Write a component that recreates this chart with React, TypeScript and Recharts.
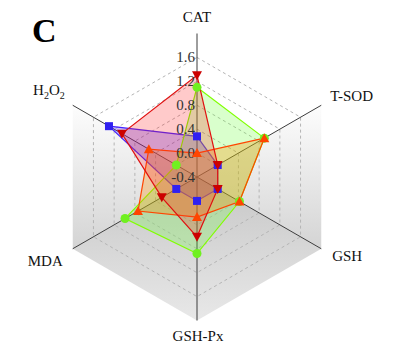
import React from "react";
import { RadarChart, Radar, PolarGrid, PolarAngleAxis, PolarRadiusAxis } from "recharts";

// axes clockwise from the top
const categories = ["CAT", "T-SOD", "GSH", "GSH-Px", "MDA", "H2O2"];
const redValues = [1.3, 0.0, 0.0, 0.6, 0.28, 1.05];
const greenValues = [1.1, 0.9, 0.42, 0.88, 0.99, 0.0];
const orangeValues = [0.0, 0.9, 0.42, 0.27, 0.74, 0.53];
const blueValues = [0.28, 0.0, 0.0, 0.0, 0.0, 1.3];
const radiusTicks = [-0.4, 0, 0.4, 0.8, 1.2, 1.6];

const data = categories.map((name, i) => ({
  name,
  red: redValues[i],
  green: greenValues[i],
  orange: orangeValues[i],
  blue: blueValues[i],
}));

const W = 420;
const H = 346;
const CX = 197;
const CY = 177;
const R = 143.5;
const SERIF = '"Liberation Serif", "Times New Roman", serif';

function pt(deg: number): [number, number] {
  const a = (deg * Math.PI) / 180;
  return [CX + R * Math.cos(a), CY - R * Math.sin(a)];
}
const poly = (pts: [number, number][]) => pts.map((p) => p.join(",")).join(" ");

// nudges for the category labels, relative to where recharts puts them
const LABEL_NUDGE: Record<string, [number, number]> = {
  CAT: [0, -4],
  "T-SOD": [2, 0],
  GSH: [4, 8],
  "GSH-Px": [1, 12],
  MDA: [-3, 13],
  H2O2: [-1, -6],
};

function AngleTick(props: any) {
  const { x, y, textAnchor, payload } = props;
  const [dx, dy] = LABEL_NUDGE[payload.value] ?? [0, 0];
  const label =
    payload.value === "H2O2" ? (
      <>
        H<tspan fontSize={10} dy={4}>2</tspan>
        <tspan dy={-4}>O</tspan>
        <tspan fontSize={10} dy={4}>2</tspan>
      </>
    ) : (
      payload.value
    );
  return (
    <text x={x + dx} y={y + dy} textAnchor={textAnchor} fontSize={15} fontFamily={SERIF} fill="#111">
      {label}
    </text>
  );
}

function RadiusTick(props: any) {
  const { x, y, payload } = props;
  return (
    <text x={x - 2} y={y + 5} textAnchor="end" fontSize={15} fontFamily={SERIF} fill="#333">
      {Number(payload.value).toFixed(1)}
    </text>
  );
}

const marker = (shape: string, color: string) => (p: any) => {
  const { cx, cy, index } = p;
  const k = `${shape}-${index}`;
  if (shape === "down")
    return <polygon key={k} points={`${cx - 5},${cy - 4} ${cx + 5},${cy - 4} ${cx},${cy + 5}`} fill={color} />;
  if (shape === "up")
    return <polygon key={k} points={`${cx - 5},${cy + 4} ${cx + 5},${cy + 4} ${cx},${cy - 5}`} fill={color} />;
  if (shape === "square") return <rect key={k} x={cx - 4} y={cy - 4} width={8} height={8} fill={color} />;
  return <circle key={k} cx={cx} cy={cy} r={4.5} fill={color} />;
};

function Backdrop() {
  const tsod = pt(30);
  const gsh = pt(-30);
  const px = pt(-90);
  const mda = pt(210);
  const h2o2 = pt(150);
  const c: [number, number] = [CX, CY];
  return (
    <svg width={W} height={H} style={{ position: "absolute", left: 0, top: 0 }}>
      <defs>
        <linearGradient id="wall" gradientUnits="userSpaceOnUse" x1={0} y1={h2o2[1]} x2={0} y2={mda[1]}>
          <stop offset="0%" stopColor="#fdfdfd" />
          <stop offset="100%" stopColor="#d4d4d4" />
        </linearGradient>
        <linearGradient id="floor" gradientUnits="userSpaceOnUse" x1={0} y1={CY} x2={0} y2={px[1]}>
          <stop offset="0%" stopColor="#c6c6c6" />
          <stop offset="100%" stopColor="#e8e8e8" />
        </linearGradient>
      </defs>
      <polygon points={poly([c, h2o2, mda])} fill="url(#wall)" />
      <polygon points={poly([c, tsod, gsh])} fill="url(#wall)" />
      <polygon points={poly([c, mda, px, gsh])} fill="url(#floor)" />
      <text x={32} y={42} fontSize={34} fontWeight="bold" fontFamily={SERIF} fill="#000">
        C
      </text>
    </svg>
  );
}

export default function App() {
  return (
    <div style={{ position: "relative", width: W, height: H, background: "#fff" }}>
      <style>{`body { margin: 0; }`}</style>
      <Backdrop />
      <div style={{ position: "absolute", left: 0, top: 0 }}>
        <RadarChart
          width={W}
          height={H}
          data={data}
          cx={CX}
          cy={CY}
          outerRadius={R}
          margin={{ top: 0, right: 0, bottom: 0, left: 0 }}
        >
          <PolarGrid gridType="polygon" radialLines={false} stroke="#b4b4b4" strokeDasharray="3 3" />
          <PolarGrid gridType="polygon" polarRadius={[]} stroke="#3c3c3c" strokeWidth={1} />
          <PolarAngleAxis dataKey="name" tick={<AngleTick />} tickSize={8} axisLine={false} tickLine={false} />
          <PolarRadiusAxis
            angle={90}
            type="number"
            scale="linear"
            domain={[radiusTicks[0], radiusTicks[radiusTicks.length - 1]]}
            allowDataOverflow
            ticks={radiusTicks as any}
            tickCount={radiusTicks.length}
            tick={<RadiusTick />}
            axisLine={false}
            tickLine={false}
          />
          <Radar
            dataKey="blue"
            stroke="#4422ff"
            strokeWidth={1.2}
            fill="#4020ff"
            fillOpacity={0.28}
            dot={marker("square", "#3020f0")}
            isAnimationActive={false}
          />
          <Radar
            dataKey="green"
            stroke="#80ff00"
            strokeWidth={1.2}
            fill="#66ff33"
            fillOpacity={0.25}
            dot={marker("circle", "#70f020")}
            isAnimationActive={false}
          />
          <Radar
            dataKey="orange"
            stroke="#ff4500"
            strokeWidth={1.2}
            fill="#ff8c00"
            fillOpacity={0.3}
            dot={marker("up", "#ff4500")}
            isAnimationActive={false}
          />
          <Radar
            dataKey="red"
            stroke="#e01010"
            strokeWidth={1.2}
            fill="#ff2020"
            fillOpacity={0.24}
            dot={marker("down", "#cc0000")}
            isAnimationActive={false}
          />
        </RadarChart>
      </div>
    </div>
  );
}
